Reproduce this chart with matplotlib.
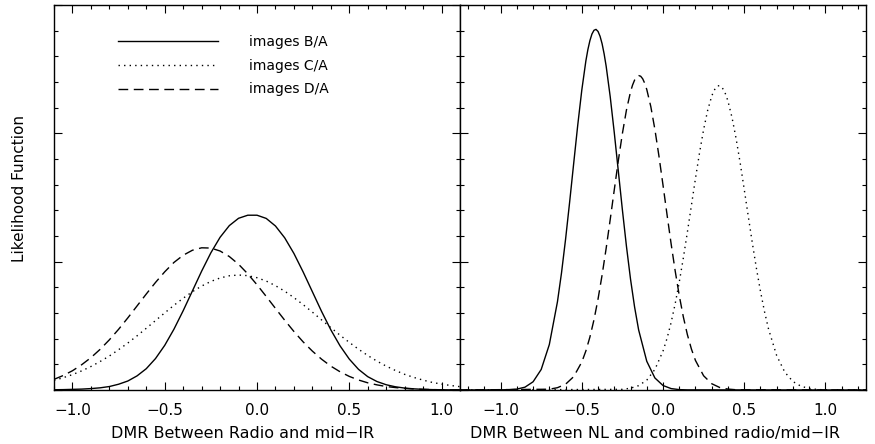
import matplotlib
matplotlib.use("Agg")
import matplotlib.pyplot as plt
from matplotlib.ticker import MultipleLocator

# left panel: DMR between radio and mid-IR
x_left = [-1.1, -1.05, -1.0, -0.95, -0.9, -0.85, -0.8, -0.75, -0.7, -0.65, -0.6,
          -0.55, -0.5, -0.45, -0.4, -0.35, -0.3, -0.25, -0.2, -0.15, -0.1, -0.05,
          0.0, 0.05, 0.1, 0.15, 0.2, 0.25, 0.3, 0.35, 0.4, 0.45, 0.5, 0.55, 0.6,
          0.65, 0.7, 0.75, 0.8, 0.85, 0.9, 0.95, 1.0, 1.05, 1.1]
ba_left = [0.002, 0.003, 0.005, 0.007, 0.011, 0.017, 0.027, 0.045, 0.070, 0.110, 0.166,
           0.245, 0.348, 0.474, 0.618, 0.772, 0.926, 1.069, 1.190, 1.281, 1.338, 1.362,
           1.362, 1.337, 1.278, 1.186, 1.064, 0.920, 0.766, 0.612, 0.469, 0.344, 0.241,
           0.161, 0.104, 0.066, 0.041, 0.025, 0.015, 0.009, 0.005, 0.003, 0.002, 0.001, 0.001]
ca_left = [0.075, 0.096, 0.120, 0.149, 0.183, 0.222, 0.265, 0.314, 0.366, 0.422, 0.481,
           0.541, 0.601, 0.660, 0.715, 0.766, 0.810, 0.846, 0.873, 0.890, 0.896, 0.891,
           0.875, 0.849, 0.813, 0.770, 0.720, 0.665, 0.607, 0.546, 0.486, 0.427, 0.371,
           0.318, 0.269, 0.225, 0.186, 0.152, 0.122, 0.098, 0.077, 0.059, 0.046, 0.035, 0.026]
da_left = [0.083, 0.113, 0.150, 0.197, 0.252, 0.317, 0.391, 0.473, 0.562, 0.655, 0.748,
           0.838, 0.921, 0.994, 1.050, 1.089, 1.108, 1.106, 1.083, 1.040, 0.980, 0.905,
           0.820, 0.729, 0.636, 0.544, 0.456, 0.375, 0.303, 0.240, 0.186, 0.142, 0.106,
           0.078, 0.056, 0.040, 0.027, 0.019, 0.012, 0.008, 0.005, 0.003, 0.002, 0.001, 0.001]

# right panel: DMR between NL and combined radio/mid-IR
x_ba_right = [-1.25, -0.95, -0.9, -0.85, -0.8, -0.75, -0.7, -0.65, -0.625, -0.6, -0.575,
              -0.55, -0.525, -0.5, -0.475, -0.4625, -0.45, -0.4375, -0.425, -0.4125, -0.4,
              -0.3875, -0.375, -0.3625, -0.35, -0.325, -0.3, -0.275, -0.25, -0.225, -0.2,
              -0.175, -0.15, -0.1, -0.05, 0.0, 0.05, 0.1, 0.15, 1.25]
ba_right = [0.0, 0.002, 0.007, 0.022, 0.064, 0.160, 0.354, 0.687, 0.912, 1.174, 1.463,
            1.765, 2.064, 2.337, 2.564, 2.653, 2.723, 2.774, 2.803, 2.810, 2.794,
            2.756, 2.698, 2.619, 2.523, 2.285, 2.005, 1.704, 1.403, 1.119, 0.864,
            0.647, 0.468, 0.224, 0.094, 0.035, 0.011, 0.003, 0.001, 0.0]
x_ca_right = [-1.25, -0.25, -0.2, -0.15, -0.1, -0.05, 0.0, 0.025, 0.05, 0.075, 0.1, 0.125,
              0.15, 0.175, 0.2, 0.225, 0.25, 0.275, 0.3, 0.3125, 0.325, 0.3375, 0.35,
              0.3625, 0.375, 0.3875, 0.4, 0.425, 0.45, 0.475, 0.5, 0.525, 0.55, 0.575,
              0.6, 0.625, 0.65, 0.7, 0.75, 0.8, 0.85, 0.9, 0.95, 1.0, 1.25]
ca_right = [0.0, 0.005, 0.014, 0.034, 0.077, 0.160, 0.303, 0.403, 0.526, 0.672, 0.840, 1.027,
            1.229, 1.439, 1.649, 1.849, 2.029, 2.179, 2.290, 2.329, 2.356, 2.370, 2.371,
            2.359, 2.335, 2.299, 2.251, 2.123, 1.960, 1.771, 1.565, 1.354, 1.146, 0.950,
            0.770, 0.611, 0.474, 0.268, 0.139, 0.066, 0.029, 0.012, 0.004, 0.001, 0.0]
x_da_right = [-1.25, -0.7, -0.65, -0.6, -0.55, -0.5, -0.475, -0.45, -0.425, -0.4, -0.375,
              -0.35, -0.325, -0.3, -0.275, -0.25, -0.225, -0.2, -0.1875, -0.175, -0.1625,
              -0.15, -0.1375, -0.125, -0.1125, -0.1, -0.075, -0.05, -0.025, 0.0, 0.025,
              0.05, 0.075, 0.1, 0.125, 0.15, 0.175, 0.2, 0.25, 0.3, 0.35, 0.4, 0.45, 1.25]
da_right = [0.0, 0.006, 0.018, 0.045, 0.104, 0.218, 0.304, 0.413, 0.547, 0.709, 0.896,
            1.104, 1.329, 1.560, 1.788, 1.999, 2.182, 2.324, 2.376, 2.415, 2.440,
            2.450, 2.445, 2.425, 2.390, 2.342, 2.208, 2.031, 1.823, 1.597, 1.365,
            1.139, 0.928, 0.737, 0.571, 0.432, 0.319, 0.230, 0.111, 0.049, 0.019, 0.007,
            0.002, 0.0]

series_labels = ['images B/A', 'images C/A', 'images D/A']
xtick_vals = [-1.0, -0.5, 0.0, 0.5, 1.0]
xtick_labels = ['\u22121.0', '\u22120.5', '0.0', '0.5', '1.0']

SOLID = '-'
DOTTED = (0, (1, 3))
DASHED = (0, (7, 4))

plt.rcParams['font.family'] = 'DejaVu Sans'
plt.rcParams['font.size'] = 11


def setup(ax, xlim, xlabel, labelx):
    ax.set_xlim(xlim)
    ax.set_ylim(0, 3)
    ax.set_xticks(xtick_vals)
    ax.set_xticklabels(xtick_labels)
    ax.xaxis.set_minor_locator(MultipleLocator(0.1))
    ax.set_yticks([0, 1, 2, 3])
    ax.set_yticklabels([])
    ax.yaxis.set_minor_locator(MultipleLocator(0.2))
    ax.tick_params(which='both', direction='in', top=True, right=True,
                   labelsize=11, pad=9, width=0.8)
    ax.tick_params(which='major', length=5.5)
    ax.tick_params(which='minor', length=3)
    for s in ax.spines.values():
        s.set_linewidth(1.0)
    ax.set_xlabel(xlabel, fontsize=11.5)
    ax.xaxis.set_label_coords(labelx, -0.093)


fig = plt.figure(figsize=(8.75, 4.44), dpi=100)
ax1 = fig.add_axes([54 / 875, 54 / 444, 406 / 875, 385 / 444])
ax2 = fig.add_axes([460 / 875, 54 / 444, 406 / 875, 385 / 444])

h1, = ax1.plot(x_left, ba_left, color='black', lw=1.0, linestyle=SOLID)
h2, = ax1.plot(x_left, ca_left, color='black', lw=1.0, linestyle=DOTTED)
h3, = ax1.plot(x_left, da_left, color='black', lw=1.0, linestyle=DASHED)

ax2.plot(x_ba_right, ba_right, color='black', lw=1.0, linestyle=SOLID)
ax2.plot(x_ca_right, ca_right, color='black', lw=1.0, linestyle=DOTTED)
ax2.plot(x_da_right, da_right, color='black', lw=1.0, linestyle=DASHED)

setup(ax1, (-1.1, 1.1), 'DMR Between Radio and mid\u2212IR', 0.464)
setup(ax2, (-1.25, 1.25), 'DMR Between NL and combined radio/mid\u2212IR', 0.48)

ax1.set_ylabel('Likelihood Function', fontsize=11)
ax1.yaxis.set_label_coords(-0.066, 0.523)

ax1.legend([h1, h2, h3], series_labels, loc='upper left', bbox_to_anchor=(0.158, 0.922),
           frameon=False, handlelength=7.2, handletextpad=2.2, labelspacing=0.7,
           borderpad=0, borderaxespad=0, fontsize=10)

fig.savefig('out.png', dpi=100)
